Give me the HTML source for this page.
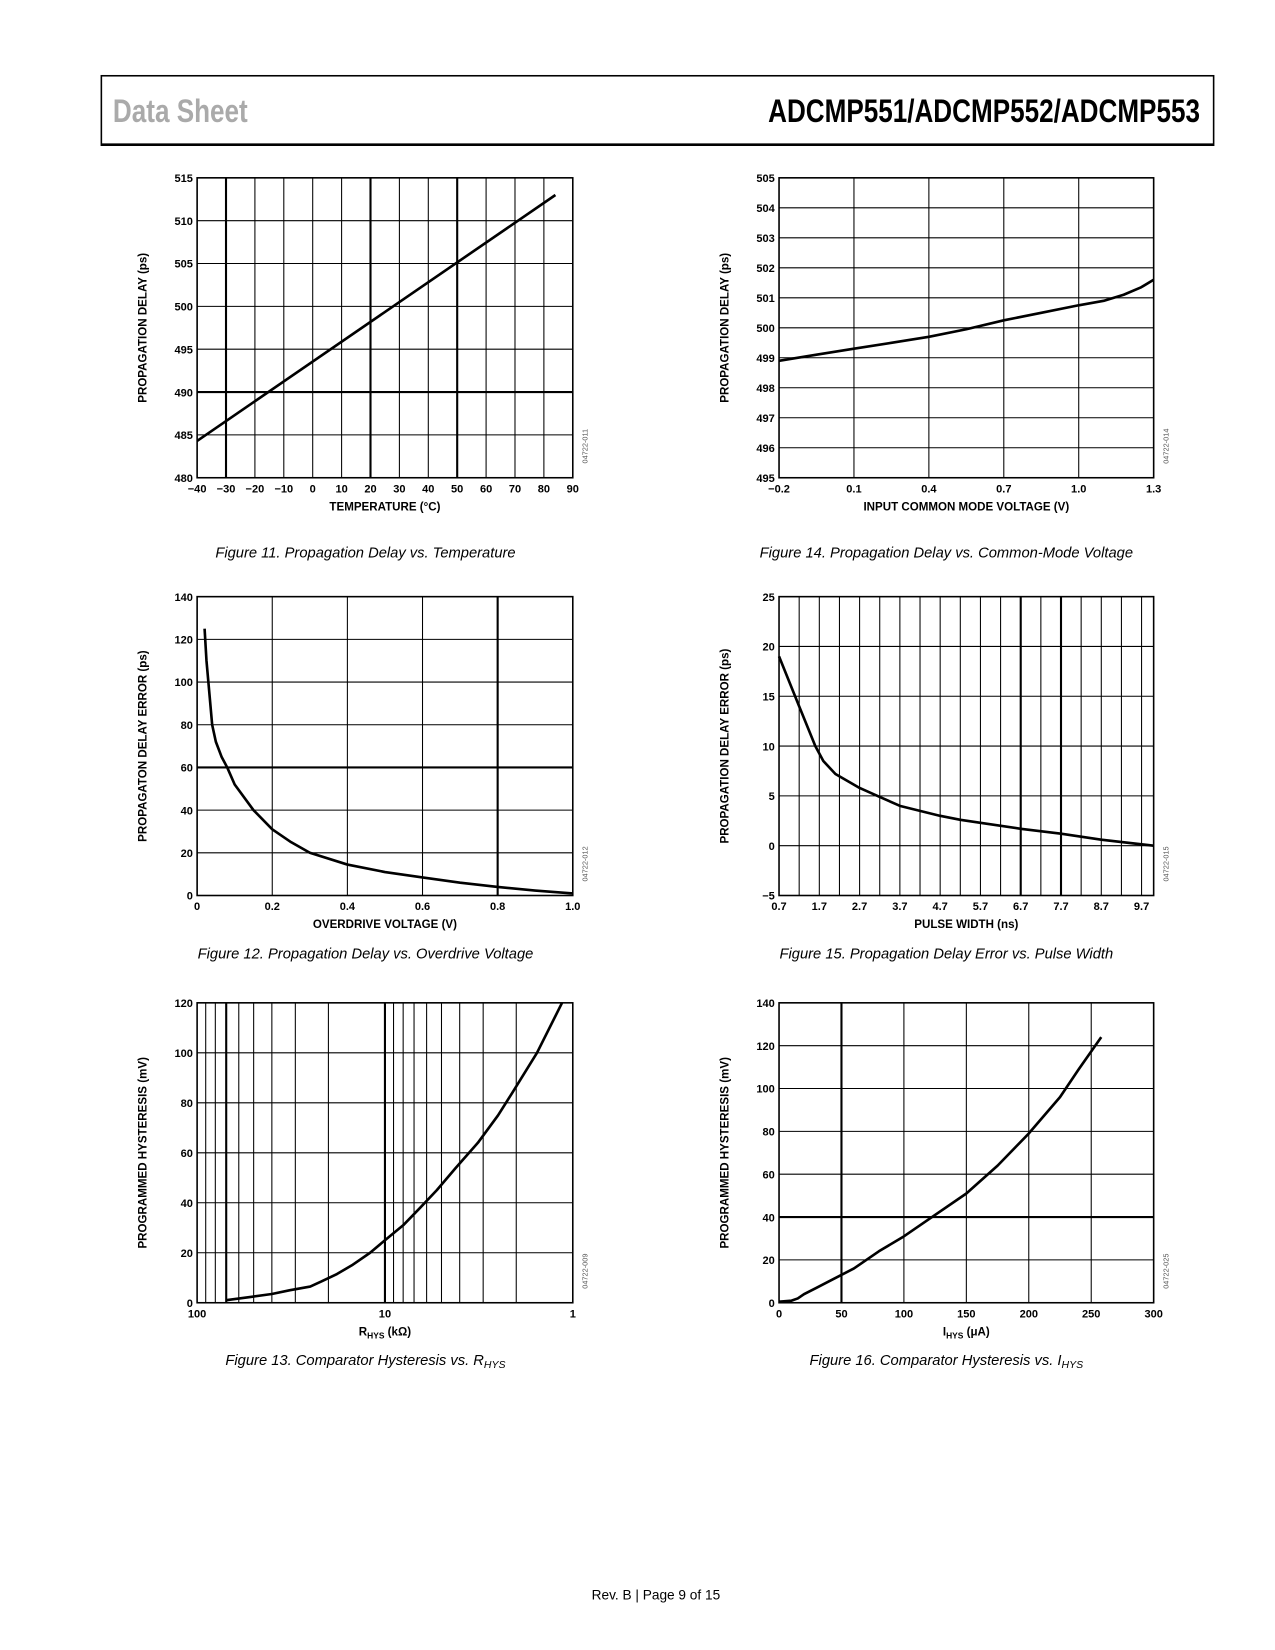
<!DOCTYPE html>
<html><head><meta charset="utf-8"><style>
html,body{margin:0;padding:0;background:#fff}
svg{display:block}
text{font-family:"Liberation Sans",sans-serif}
</style></head><body>
<svg id="page" width="1275" height="1650" viewBox="0 0 1211 1568" xmlns="http://www.w3.org/2000/svg">
<rect x="96" y="72" width="1057" height="66" fill="none" stroke="#000" stroke-width="1.5"/>
<line x1="96" y1="137.5" x2="1153" y2="137.5" stroke="#000" stroke-width="2.5"/>
<text x="107" y="116" font-size="31" fill="#aaa" font-weight="bold" transform="translate(107 0) scale(0.8 1) translate(-107 0)">Data Sheet</text>
<text x="1140" y="116" font-size="31" font-weight="bold" text-anchor="end" transform="translate(1140 0) scale(0.8 1) translate(-1140 0)">ADCMP551/ADCMP552/ADCMP553</text>
<g id="charts"></g>
<text x="347" y="530" font-size="14" font-style="italic" text-anchor="middle">Figure 11. Propagation Delay vs. Temperature</text>
<text x="899" y="530" font-size="14" font-style="italic" text-anchor="middle">Figure 14. Propagation Delay vs. Common-Mode Voltage</text>
<text x="347" y="911" font-size="14" font-style="italic" text-anchor="middle">Figure 12. Propagation Delay vs. Overdrive Voltage</text>
<text x="899" y="911" font-size="14" font-style="italic" text-anchor="middle">Figure 15. Propagation Delay Error vs. Pulse Width</text>
<text x="347" y="1297" font-size="14" font-style="italic" text-anchor="middle">Figure 13. Comparator Hysteresis vs. R<tspan font-size="10" dy="3">HYS</tspan></text>
<text x="899" y="1297" font-size="14" font-style="italic" text-anchor="middle">Figure 16. Comparator Hysteresis vs. I<tspan font-size="10" dy="3">HYS</tspan></text>
<text x="623" y="1520" font-size="13" text-anchor="middle">Rev. B | Page 9 of 15</text>
</svg>
<script>
// ---- data ----
const f11X=[-40,84];
const f11Y=[484.3,513];
const f11XTicks=[-40,-30,-20,-10,0,10,20,30,40,50,60,70,80,90];
const f11XLabels=["−40","−30","−20","−10","0","10","20","30","40","50","60","70","80","90"];
const f11YTicks=[480,485,490,495,500,505,510,515];

const f14X=[-0.2,-0.05,0.1,0.25,0.4,0.55,0.7,0.85,1.0,1.1,1.18,1.25,1.3];
const f14Y=[498.9,499.1,499.3,499.5,499.7,499.95,500.25,500.5,500.75,500.9,501.1,501.35,501.6];
const f14XTicks=[-0.2,0.1,0.4,0.7,1.0,1.3];
const f14XLabels=["−0.2","0.1","0.4","0.7","1.0","1.3"];
const f14YTicks=[495,496,497,498,499,500,501,502,503,504,505];

const f12X=[0.02,0.025,0.03,0.04,0.05,0.065,0.08,0.1,0.15,0.2,0.25,0.3,0.4,0.5,0.6,0.7,0.8,0.9,1.0];
const f12Y=[125,110,100,80,72,65,60,52,40,31,25,20,14.5,11,8.5,6,4,2.3,1];
const f12XTicks=[0,0.2,0.4,0.6,0.8,1.0];
const f12XLabels=["0","0.2","0.4","0.6","0.8","1.0"];
const f12YTicks=[0,20,40,60,80,100,120,140];

const f15X=[0.7,1.2,1.6,1.8,2.1,2.7,3.2,3.7,4.7,5.2,5.7,6.7,7.7,8.7,10.0];
const f15Y=[19,14,10,8.5,7.2,5.8,4.9,4,3,2.6,2.3,1.7,1.2,0.6,0];
const f15XTicks=[0.7,1.7,2.7,3.7,4.7,5.7,6.7,7.7,8.7,9.7];
const f15XLabels=["0.7","1.7","2.7","3.7","4.7","5.7","6.7","7.7","8.7","9.7"];
const f15YTicks=[-5,0,5,10,15,20,25];
const f15YLabels=["−5","0","5","10","15","20","25"];

const f13X=[70,50,40,32,25,21.8,18,15,12,10,8,6.5,5.3,4.2,3.2,2.5,2.1,1.55,1.14];
const f13Y=[1,2.5,3.5,5,6.5,8.5,11.5,15,20,25,31,38,45,54,64,75,84,100,120];
const f13XTicks=[100,10,1];
const f13XLabels=["100","10","1"];
const f13YTicks=[0,20,40,60,80,100,120];

const f16X=[0,10,15,20,30,40,60,80,100,120,150,175,200,225,240,258];
const f16Y=[0.5,1,2,4,7,10,16,24,31,39,51,64,79,96,109,124];
const f16XTicks=[0,50,100,150,200,250,300];
const f16YTicks=[0,20,40,60,80,100,120,140];

const NS="http://www.w3.org/2000/svg";
const root=document.getElementById('charts');
function mk(tag,attrs,parent){const e=document.createElementNS(NS,tag);for(const k in attrs)e.setAttribute(k,attrs[k]);(parent||root).appendChild(e);return e;}

function chart(o){
  const g=mk('g',{});
  
  
  const L=o.x0,R=o.x1,T=o.y0,B=o.y1;
  const sx=o.log?(v=>L+(Math.log10(o.xmax)-Math.log10(v))/(Math.log10(o.xmax)-Math.log10(o.xmin))*(R-L))
                :(v=>L+(v-o.xmin)/(o.xmax-o.xmin)*(R-L));
  const sy=v=>B-(v-o.ymin)/(o.ymax-o.ymin)*(B-T);
  o.vgrid.forEach(v=>{const l=mk('line',{x1:sx(v),x2:sx(v),y1:T,y2:B,stroke:'#000','stroke-width':1},g);
    });
  o.yTicks.forEach(v=>{const l=mk('line',{x1:L,x2:R,y1:sy(v),y2:sy(v),stroke:'#000','stroke-width':1},g);
    });
  (o.thick||[]).forEach(t=>{const l=mk('line',t.v?{x1:sx(t.v),x2:sx(t.v),y1:T,y2:B}:{x1:L,x2:R,y1:sy(t.h),y2:sy(t.h)},g);
    l.setAttribute('stroke','#000');l.setAttribute('stroke-width','2');
    });
  const fr=mk('rect',{x:L,y:T,width:R-L,height:B-T,fill:'none',stroke:'#000','stroke-width':1.5},g);
  
  o.yTicks.forEach((v,i)=>{const t=mk('text',{x:L-4,y:sy(v)+4,'font-size':10.5,'font-weight':'bold','text-anchor':'end'},g);
    t.textContent=o.yLabels?o.yLabels[i]:String(v);
    });
  o.xTicks.forEach((v,i)=>{const t=mk('text',{x:sx(v),y:B+14,'font-size':10.5,'font-weight':'bold','text-anchor':'middle'},g);
    t.textContent=o.xLabels?o.xLabels[i]:String(v);
    });
  const xt=mk('text',{x:(L+R)/2,y:B+31,'font-size':11,'font-weight':'bold','text-anchor':'middle'},g);
  xt.innerHTML=o.xTitle;
  
  const cy=(T+B)/2;
  const yt=mk('text',{x:L-48,y:cy,'font-size':11,'font-weight':'bold','text-anchor':'middle',transform:`rotate(-90 ${L-48} ${cy})`},g);
  yt.textContent=o.yTitle;
  
  const ct=mk('text',{x:R+14,y:B-30,'font-size':7,fill:'#555','text-anchor':'middle',transform:`rotate(-90 ${R+14} ${B-30})`},g);
  ct.textContent=o.code;
  
  const d=o.xs.map((x,i)=>(i?'L':'M')+sx(x).toFixed(1)+','+sy(o.ys[i]).toFixed(1)).join(' ');
  const p=mk('path',{d:d,fill:'none',stroke:'#000','stroke-width':2.5,'stroke-linejoin':'round'},g);
  
}
function range(a,b,s){const r=[];for(let v=a;v<=b+1e-9;v+=s)r.push(+v.toFixed(4));return r;}

chart({name:'chart-fig11',x0:187,x1:544,y0:169,y1:454,xmin:-40,xmax:90,ymin:480,ymax:515,
  vgrid:f11XTicks,xTicks:f11XTicks,xLabels:f11XLabels,yTicks:f11YTicks,thick:[{h:490},{v:-30},{v:20},{v:50}],
  xTitle:'TEMPERATURE (°C)',yTitle:'PROPAGATION DELAY (ps)',code:'04722-011',xs:f11X,ys:f11Y});
chart({name:'chart-fig14',x0:740,x1:1096,y0:169,y1:454,xmin:-0.2,xmax:1.3,ymin:495,ymax:505,
  vgrid:f14XTicks,xTicks:f14XTicks,xLabels:f14XLabels,yTicks:f14YTicks,
  xTitle:'INPUT COMMON MODE VOLTAGE (V)',yTitle:'PROPAGATION DELAY (ps)',code:'04722-014',xs:f14X,ys:f14Y});
chart({name:'chart-fig12',x0:187,x1:544,y0:567,y1:851,xmin:0,xmax:1.0,ymin:0,ymax:140,
  vgrid:f12XTicks,xTicks:f12XTicks,xLabels:f12XLabels,yTicks:f12YTicks,thick:[{h:60},{v:0.8}],
  xTitle:'OVERDRIVE VOLTAGE (V)',yTitle:'PROPAGATON DELAY ERROR (ps)',code:'04722-012',xs:f12X,ys:f12Y});
chart({name:'chart-fig15',x0:740,x1:1096,y0:567,y1:851,xmin:0.7,xmax:10.0,ymin:-5,ymax:25,
  vgrid:range(1.2,9.7,0.5),xTicks:f15XTicks,xLabels:f15XLabels,yTicks:f15YTicks,yLabels:f15YLabels,thick:[{v:6.7},{v:7.7}],
  xTitle:'PULSE WIDTH (ns)',yTitle:'PROPAGATION DELAY ERROR (ps)',code:'04722-015',xs:f15X,ys:f15Y});
chart({name:'chart-fig13',x0:187,x1:544,y0:953,y1:1238,log:true,xmin:1,xmax:100,ymin:0,ymax:120,
  vgrid:[90,80,70,60,50,40,30,20,10,9,8,7,6,5,4,3,2],xTicks:f13XTicks,xLabels:f13XLabels,yTicks:f13YTicks,thick:[{v:70},{v:10}],
  xTitle:'R<tspan font-size="8" dy="3">HYS</tspan><tspan dy="-3"> (kΩ)</tspan>',yTitle:'PROGRAMMED HYSTERESIS (mV)',code:'04722-009',xs:f13X,ys:f13Y});
chart({name:'chart-fig16',x0:740,x1:1096,y0:953,y1:1238,xmin:0,xmax:300,ymin:0,ymax:140,
  vgrid:f16XTicks,xTicks:f16XTicks,yTicks:f16YTicks,thick:[{h:40},{v:50}],
  xTitle:'I<tspan font-size="8" dy="3">HYS</tspan><tspan dy="-3"> (μA)</tspan>',yTitle:'PROGRAMMED HYSTERESIS (mV)',code:'04722-025',xs:f16X,ys:f16Y});
</script>
</body></html>
